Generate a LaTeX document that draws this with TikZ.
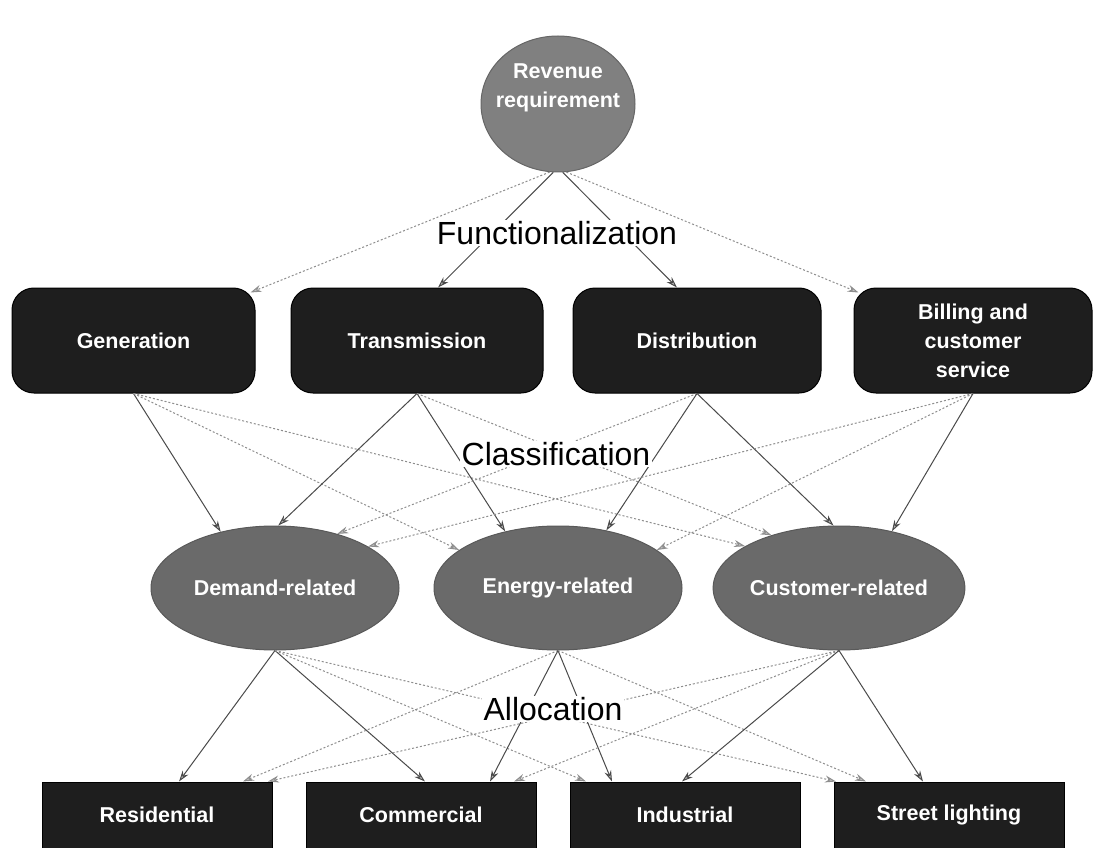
\documentclass[tikz,border=0pt]{standalone}
\usepackage{fontspec}
\setmainfont{Liberation Sans}
\usetikzlibrary{arrows.meta,shapes.geometric}

\definecolor{boxdark}{HTML}{1E1E1E}
\definecolor{ellgray}{HTML}{6A6A6A}
\definecolor{circgray}{HTML}{808080}
\definecolor{solidline}{HTML}{4A4A4A}
\definecolor{dotline}{HTML}{8E8E8E}

\begin{document}
\begin{tikzpicture}[x=1pt,y=-1pt,
  boxtext/.style={font=\fontsize{21.5}{29}\selectfont\bfseries, text=white, align=center},
  funcbox/.style={boxtext, rectangle, rounded corners=22pt, fill=boxdark, draw=black,
    line width=1pt, minimum height=105pt, inner sep=0pt},
  classell/.style={boxtext, ellipse, fill=ellgray, draw=black!65, line width=1pt,
    minimum width=248pt, minimum height=124pt, inner sep=0pt},
  custbox/.style={boxtext, rectangle, fill=boxdark, draw=black, line width=1pt,
    minimum width=230pt, minimum height=66pt, inner sep=0pt},
  revshape/.style={ellipse, fill=circgray, draw=black!60, line width=1pt,
    minimum width=154pt, minimum height=136pt, inner sep=0pt},
  headtip/.style={-{Stealth[length=11pt,width=7pt,fill=black!25]}},
  solidarrow/.style={headtip, draw=solidline, line width=1pt},
  dotarrow/.style={headtip, draw=dotline, line width=1pt, dash pattern=on 2pt off 2pt},
  steplabel/.style={font=\fontsize{32}{38}\selectfont, text=black, fill=white, inner sep=1.5pt}
]
\fill[white] (0,0) rectangle (1096,848);
\useasboundingbox (0,0) rectangle (1096,848);

% revenue requirement (text sits a little above the centre)
\node[revshape, label={[boxtext, yshift=16pt]center:Revenue\\requirement}] (rev) at (558,104) {};

% functions
\node[funcbox, minimum width=243pt] (gen)   at (133.5,340.5) {Generation};
\node[funcbox, minimum width=252pt] (trans) at (417,340.5) {Transmission};
\node[funcbox, minimum width=248pt] (dist)  at (697,340.5) {Distribution};
\node[funcbox, minimum width=238pt] (bill)  at (973,340.5) {Billing and\\customer\\service};

% cost classes
\node[classell] (demand)   at (275,588) {Demand-related};
\node[classell] (energy)   at (558,588) {Energy-related};
\node[classell] (customer) at (839,588) {Customer-related};

% customer classes
\node[custbox] (res) at (157,815) {Residential};
\node[custbox] (com) at (421,815) {Commercial};
\node[custbox] (ind) at (685,815) {Industrial};
\node[custbox] (str) at (949,815) {Street lighting};

% functionalization
\draw[dotarrow]   (rev.263) -- ([xshift=-5pt,yshift=-5pt]gen.north east);
\draw[solidarrow] (rev.266) -- ([xshift=21pt]trans.north);
\draw[solidarrow] (rev.274) -- ([xshift=-20pt]dist.north);
\draw[dotarrow]   (rev.277) -- ([xshift=5pt,yshift=-5pt]bill.north west);

% classification
\draw[solidarrow] (gen.south) -- (demand.134);
\draw[dotarrow]   (gen.south) -- (energy.159);
\draw[dotarrow]   (gen.south) -- (customer.156);
\draw[solidarrow] (trans.south) -- (demand.87);
\draw[solidarrow] (trans.south) -- (energy.133);
\draw[dotarrow]   (trans.south) -- (customer.142);
\draw[dotarrow]   (dist.south) -- (demand.41);
\draw[solidarrow] (dist.south) -- (energy.50);
\draw[solidarrow] (dist.south) -- (customer.95);
\draw[dotarrow]   (bill.south) -- (demand.24);
\draw[dotarrow]   (bill.south) -- (energy.21);
\draw[solidarrow] (bill.south) -- (customer.47);

% allocation
\draw[solidarrow] (demand.south) -- ([xshift=22pt]res.north);
\draw[solidarrow] (demand.south) -- ([xshift=4pt]com.north);
\draw[dotarrow]   (demand.south) -- ([xshift=-99pt]ind.north);
\draw[dotarrow]   (demand.south) -- ([xshift=-113pt]str.north);
\draw[dotarrow]   (energy.south) -- ([xshift=86pt]res.north);
\draw[solidarrow] (energy.south) -- ([xshift=69pt]com.north);
\draw[solidarrow] (energy.south) -- ([xshift=-73pt]ind.north);
\draw[dotarrow]   (energy.south) -- ([xshift=-83pt]str.north);
\draw[dotarrow]   (customer.south) -- ([xshift=111pt]res.north);
\draw[dotarrow]   (customer.south) -- ([xshift=93pt]com.north);
\draw[solidarrow] (customer.south) -- ([xshift=-3pt]ind.north);
\draw[solidarrow] (customer.south) -- ([xshift=-26pt]str.north);

% stage labels
\node[steplabel] (lfun) at (557,233) {Functionalization};
\node[steplabel] (lcla) at (556,454) {Classification};
\node[steplabel] (lall) at (553,709) {Allocation};
\end{tikzpicture}
\end{document}
